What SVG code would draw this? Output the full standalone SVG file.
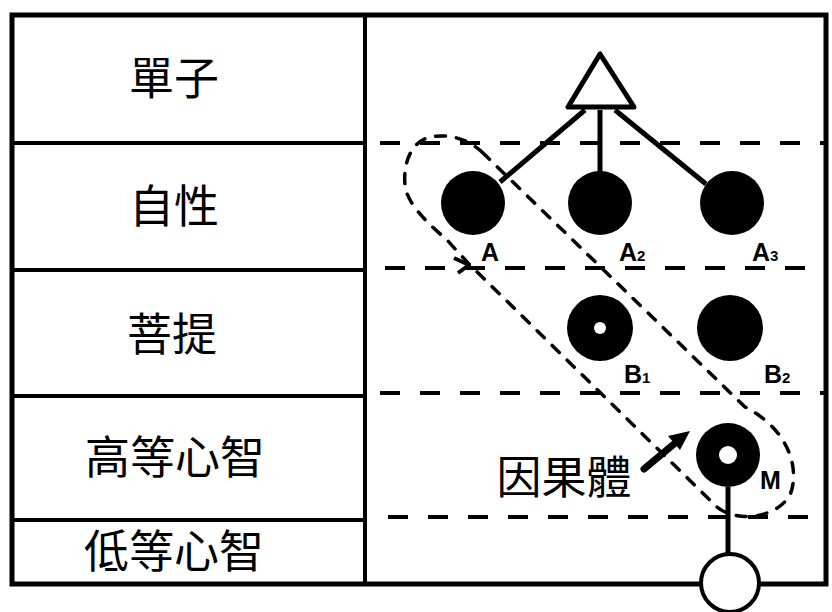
<svg xmlns="http://www.w3.org/2000/svg" width="832" height="612" viewBox="0 0 832 612">
<style>
.frame{fill:none;stroke:#000;stroke-width:5}
.row{stroke:#000;stroke-width:4}
.dash{stroke:#000;stroke-width:4;stroke-dasharray:20 20;fill:none}
.loop{stroke:#000;stroke-width:3.5;stroke-dasharray:10 11;fill:none;stroke-linecap:round}
.conn{stroke:#000;stroke-width:5;fill:none}
.dot{fill:#000}
.lbl{font-family:"Noto Sans CJK TC","Noto Sans CJK SC",sans-serif;font-size:45px;fill:#000;text-anchor:middle}
.nl{font-family:"Liberation Sans",Arial,sans-serif;font-weight:bold;font-size:25px;fill:#000}
.sub{font-size:15px}
</style>
<rect width="832" height="612" fill="#fff"/>
<g id="frame">
<rect class="frame" x="12" y="15" width="814" height="569"/>
<line class="row" x1="365" y1="15" x2="365" y2="584"/>
<line class="row" x1="12" y1="143" x2="365" y2="143"/>
<line class="row" x1="12" y1="270" x2="365" y2="270"/>
<line class="row" x1="12" y1="396" x2="365" y2="396"/>
<line class="row" x1="12" y1="520" x2="365" y2="520"/>
</g>
<g id="levels">
<line class="dash" x1="380" y1="143" x2="826" y2="143"/>
<line class="dash" x1="385" y1="268" x2="826" y2="268"/>
<line class="dash" x1="380" y1="393" x2="826" y2="393"/>
<line class="dash" x1="388" y1="517" x2="826" y2="517"/>
</g>
<g id="row-labels">
<text class="lbl" x="174" y="95">單子</text>
<text class="lbl" x="174" y="223">自性</text>
<text class="lbl" x="172" y="351">菩提</text>
<text class="lbl" x="175" y="474">高等心智</text>
<text class="lbl" x="174" y="568">低等心智</text>
</g>
<g id="connectors">
<line class="conn" x1="585" y1="110" x2="500" y2="182"/>
<line class="conn" x1="600" y1="110" x2="600" y2="172"/>
<line class="conn" x1="615" y1="110" x2="706" y2="184"/>
<line class="conn" x1="728" y1="487" x2="728" y2="554"/>
<path class="loop" d="M483,153 C470,140 450,133 430,137 C410,142 403,165 405,185 C407,205 430,225 447,240 L468,263 L717,507 C735,522 775,520 790,495 C800,470 790,430 745,407 Z"/>
<path d="M454,258 L469,265 L458,273" fill="none" stroke="#000" stroke-width="4" stroke-linejoin="round"/>
<line x1="644" y1="469" x2="674" y2="444" stroke="#000" stroke-width="7" stroke-linecap="round"/>
<polygon points="690,431 668,436 680,450" fill="#000"/>
</g>
<g id="monad">
<polygon points="600,54 568,107 634,107" fill="#fff" stroke="#000" stroke-width="5" stroke-linejoin="round"/>
</g>
<g id="A1"><circle class="dot" cx="473" cy="203" r="32"/><text class="nl" x="481" y="261">A</text></g>
<g id="A2"><circle class="dot" cx="600" cy="203" r="32"/><text class="nl" x="619" y="261">A<tspan class="sub">2</tspan></text></g>
<g id="A3"><circle class="dot" cx="732" cy="203" r="32"/><text class="nl" x="752" y="261">A<tspan class="sub">3</tspan></text></g>
<g id="B1"><circle class="dot" cx="600" cy="328" r="33"/><circle cx="600" cy="328" r="6" fill="#fff"/><text class="nl" x="624" y="383">B<tspan class="sub">1</tspan></text></g>
<g id="B2"><circle class="dot" cx="730" cy="328" r="33"/><text class="nl" x="764" y="383">B<tspan class="sub">2</tspan></text></g>
<g id="M"><circle class="dot" cx="728" cy="455" r="32"/><circle cx="728" cy="455" r="9" fill="#fff"/><text class="nl" x="760" y="489" font-size="23">M</text></g>
<g id="lower"><circle cx="730" cy="583" r="29" fill="#fff" stroke="#000" stroke-width="4"/></g>
<g id="causal-body"><text class="lbl" x="564" y="494">因果體</text></g>
</svg>
